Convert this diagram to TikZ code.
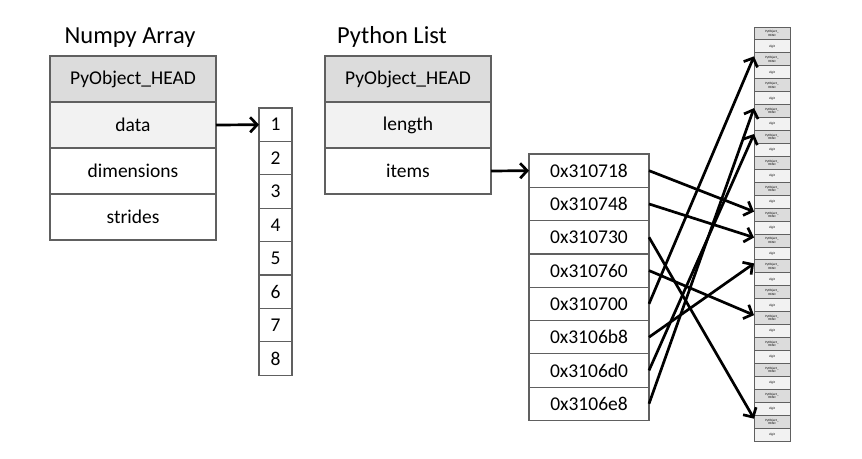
\documentclass[tikz,border=0pt]{standalone}
\usepackage{fontspec}
\setmainfont{Carlito}
\usetikzlibrary{arrows.meta, positioning}
\definecolor{headgray}{HTML}{DCDCDC}
\definecolor{palegray}{HTML}{F2F2F2}
\definecolor{edgegray}{HTML}{606060}

\begin{document}
\begin{tikzpicture}[
    x=1pt, y=-1pt,
    node distance=0pt,
    title/.style={font=\fontsize{24.5}{28}\selectfont, inner sep=0pt},
    field/.style={rectangle, draw=edgegray, line width=1.2pt, minimum width=166pt, minimum height=46pt, inner sep=0pt, outer sep=0pt, font=\fontsize{19.5}{22}\selectfont},
    numcell/.style={rectangle, draw=edgegray, line width=1.2pt, minimum width=33pt, minimum height=33.4pt, inner sep=0pt, outer sep=0pt, font=\fontsize{19.5}{22}\selectfont},
    addrcell/.style={rectangle, draw=edgegray, line width=1.2pt, minimum width=120pt, minimum height=33.3pt, inner sep=0pt, outer sep=0pt, font=\fontsize{19.5}{22}\selectfont},
    objhead/.style={rectangle, draw=edgegray, fill=headgray, line width=0.9pt, minimum width=36pt, minimum height=12.94pt, inner sep=0pt, outer sep=0pt, align=center, font=\fontsize{3.2}{3.4}\selectfont},
    objdig/.style={objhead, fill=palegray},
    ptr/.style={draw, line width=2.7pt, -{Straight Barb[length=7pt, width=15pt]}}
]
\useasboundingbox (0,0) rectangle (862,458);
\fill[white] (0,0) rectangle (862,458);

% numpy array
\node [title] (nptitle) at (130,38) {Numpy Array};
\node [field, fill=headgray, anchor=north] (nphead) at (133,56) {PyObject\_HEAD};
\node [field, fill=palegray, below=of nphead] (npdata) {data};
\node [field, below=of npdata] (npdims) {dimensions};
\node [field, below=of npdims] (npstrides) {strides};

% raw data buffer
\node [numcell, anchor=north] (n1) at (275.5,108) {1};
\foreach \i [remember=\i as \j (initially 1)] in {2,...,8}
  \node [numcell, below=of n\j] (n\i) {\i};

% python list
\node [title] (pytitle) at (392,37) {Python List};
\node [field, fill=headgray, anchor=north] (pyhead) at (408,56) {PyObject\_HEAD};
\node [field, fill=palegray, below=of pyhead] (pylength) {length};
\node [field, below=of pylength] (pyitems) {items};

% pointer array
\node [addrcell, anchor=north] (p1) at (589,154) {0x310718};
\node [addrcell, below=of p1] (p2) {0x310748};
\node [addrcell, below=of p2] (p3) {0x310730};
\node [addrcell, below=of p3] (p4) {0x310760};
\node [addrcell, below=of p4] (p5) {0x310700};
\node [addrcell, below=of p5] (p6) {0x3106b8};
\node [addrcell, below=of p6] (p7) {0x3106d0};
\node [addrcell, below=of p7] (p8) {0x3106e8};

% integer objects
\foreach \i in {1,...,16} {
  \node [objhead, anchor=north] (hd\i) at (772,{27+25.88*(\i-1)}) {PyObject\_\\HEAD};
  \node [objdig, below=of hd\i] (dg\i) {digit};
}

\path [ptr] (npdata.east) -- (n1.west);
\path [ptr] (pyitems.east) -- (p1.west);
\path [ptr] (p1.east) -- ([yshift=3pt]hd8.west);
\path [ptr] (p2.east) -- ([yshift=3pt]hd9.west);
\path [ptr] (p3.east) -- ([yshift=3pt]hd16.west);
\path [ptr] (p4.east) -- ([yshift=3pt]hd12.west);
\path [ptr] (p5.east) -- ([yshift=3pt]hd2.west);
\path [ptr] (p6.east) -- ([yshift=3pt]hd10.west);
\path [ptr] (p7.east) -- ([yshift=3pt]hd5.west);
\path [ptr] (p8.east) -- ([yshift=3pt]hd4.west);
\end{tikzpicture}
\end{document}
